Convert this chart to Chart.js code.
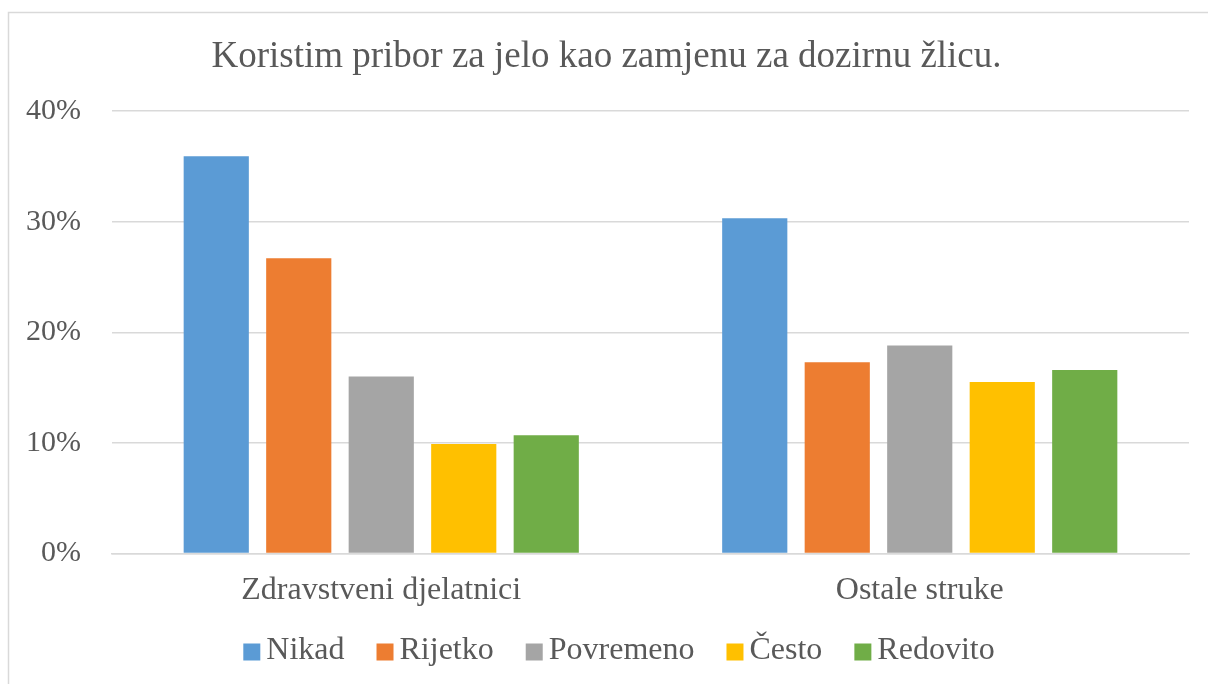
<!DOCTYPE html>
<html>
<head>
<meta charset="utf-8">
<script src="https://cdn.jsdelivr.net/npm/chart.js@4/dist/chart.umd.min.js"></script>
<style>
  html, body { margin: 0; padding: 0; background: #ffffff; }
  #wrap { width: 1208px; height: 684px; position: relative; }
</style>
</head>
<body>
<div id="wrap"><canvas id="c" width="1208" height="684"></canvas></div>
<script>
const titleText = 'Koristim pribor za jelo kao zamjenu za dozirnu žlicu.';
const categories = ['Zdravstveni djelatnici', 'Ostale struke'];
const seriesNames = ['Nikad', 'Rijetko', 'Povremeno', 'Često', 'Redovito'];
const seriesColors = ['#5B9BD5', '#ED7D31', '#A5A5A5', '#FFC000', '#70AD47'];
const nikad = [35.9, 30.3];
const rijetko = [26.7, 17.3];
const povremeno = [16.0, 18.8];
const cesto = [9.9, 15.5];
const redovito = [10.7, 16.6];
const seriesValues = [nikad, rijetko, povremeno, cesto, redovito];
const yTicks = [0, 10, 20, 30, 40];

const FONT = '"Liberation Serif", "Times New Roman", serif';
const TEXT = '#595959';
const GRID = '#d9d9d9';

const frame = {
  id: 'frame',
  beforeDraw(chart) {
    const ctx = chart.ctx;
    ctx.save();
    ctx.fillStyle = '#ffffff';
    ctx.fillRect(0, 0, chart.width, chart.height);
    ctx.strokeStyle = GRID;
    ctx.lineWidth = 1.5;
    ctx.strokeRect(8.5, 12.5, 1400, 900);
    ctx.restore();
  }
};

const customLegend = {
  id: 'customLegend',
  afterDraw(chart) {
    const ctx = chart.ctx;
    ctx.save();
    ctx.font = '32px ' + FONT;
    const box = 17, gapText = 6, gapItem = 32;
    const items = chart.data.datasets.map(d => ({ label: d.label, color: d.backgroundColor, w: ctx.measureText(d.label).width }));
    let total = 0;
    items.forEach((it, i) => { total += box + gapText + it.w + (i < items.length - 1 ? gapItem : 0); });
    let x = (chart.width - total) / 2 + 15;
    const yc = 652;
    ctx.textBaseline = 'middle';
    ctx.textAlign = 'left';
    items.forEach(it => {
      ctx.fillStyle = it.color;
      ctx.fillRect(x, yc - box / 2, box, box);
      ctx.fillStyle = TEXT;
      ctx.fillText(it.label, x + box + gapText, yc - 1);
      x += box + gapText + it.w + gapItem;
    });
    ctx.restore();
  }
};

new Chart(document.getElementById('c'), {
  type: 'bar',
  data: {
    labels: categories,
    datasets: seriesNames.map((name, i) => ({
      label: name,
      data: seriesValues[i],
      backgroundColor: seriesColors[i],
      borderWidth: 0,
      categoryPercentage: 0.766,
      barPercentage: 0.79
    }))
  },
  options: {
    responsive: false,
    animation: false,
    layout: { padding: { left: 24, right: 19, top: 0, bottom: 56 } },
    plugins: {
      legend: { display: false },
      tooltip: { enabled: false },
      title: {
        display: true,
        text: titleText,
        color: TEXT,
        font: { family: FONT, size: 37, weight: 'normal' },
        padding: { top: 35, bottom: 31.6 }
      }
    },
    scales: {
      x: {
        grid: { display: false, drawTicks: false },
        border: { display: true, color: GRID, width: 1.5 },
        ticks: { color: TEXT, font: { family: FONT, size: 32 }, padding: 18 }
      },
      y: {
        min: 0,
        max: 40,
        afterBuildTicks(axis) { axis.ticks = yTicks.map(v => ({ value: v })); },
        afterFit(axis) { axis.width = 88; },
        grid: { color: GRID, lineWidth: 1.5, drawTicks: false },
        border: { display: false },
        ticks: { color: TEXT, font: { family: FONT, size: 30 }, padding: 31, callback: v => v + '%' }
      }
    }
  },
  plugins: [frame, customLegend]
});
</script>
</body>
</html>
